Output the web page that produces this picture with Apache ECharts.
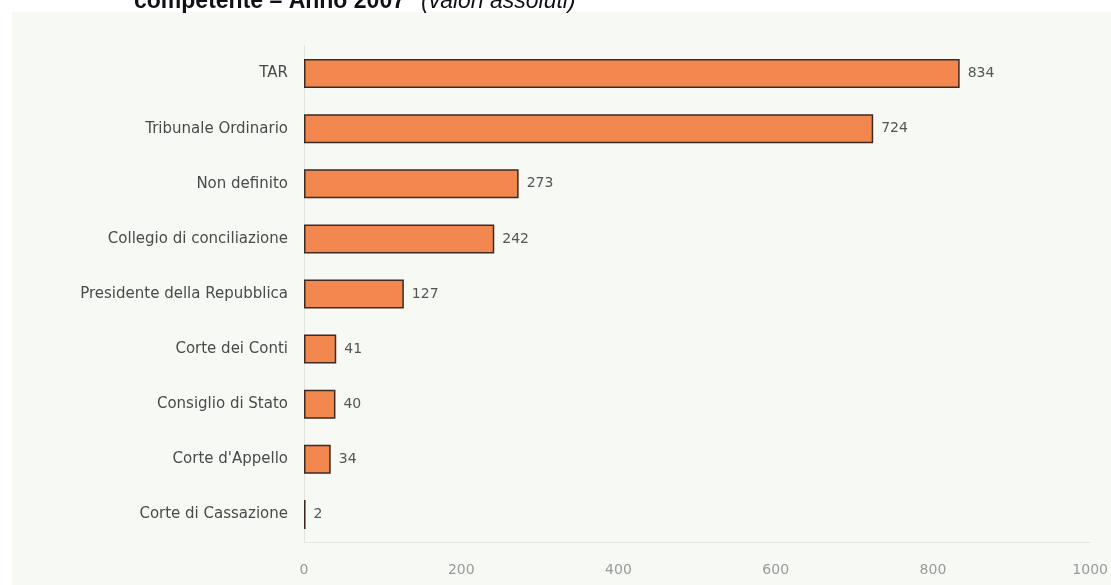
<!DOCTYPE html>
<html><head><meta charset="utf-8">
<script src="https://cdn.jsdelivr.net/npm/echarts@6/dist/echarts.min.js"></script>
<style>html,body{margin:0;padding:0;background:#fff}#c{width:1111px;height:585px}</style>
</head><body><div id="c"></div>
<script>
const categories = ["TAR","Tribunale Ordinario","Non definito","Collegio di conciliazione","Presidente della Repubblica","Corte dei Conti","Consiglio di Stato","Corte d'Appello","Corte di Cassazione"];
const values = [834,724,273,242,127,41,40,34,2];
const xTicks = [0,200,400,600,800,1000];

const chart = echarts.init(document.getElementById('c'));
chart.setOption({
  backgroundColor:'#ffffff',
  animation:false,
  graphic:[{type:'rect',z:-10,shape:{x:12,y:12,width:1099,height:573},style:{fill:'#f6f9f4'}}],
  title:{
    left:129, top:-15,
    text:'{b|competente – Anno 2007}{s| }{i|(valori assoluti)}',
    textStyle:{rich:{
      b:{fontFamily:'Liberation Sans, Arial',fontWeight:'bold',fontSize:23,color:'#111'},
      s:{fontFamily:'Liberation Sans, Arial',fontWeight:'normal',fontSize:23,width:16},
      i:{fontFamily:'Liberation Sans, Arial',fontWeight:'normal',fontStyle:'italic',fontSize:23,color:'#111'}
    }}
  },
  grid:{left:304,right:18,top:46,bottom:43,containLabel:false},
  xAxis:{type:'value',min:0,max:1000,interval:200,
    axisLine:{show:true,lineStyle:{color:'#e4e8e2',width:1}},
    axisTick:{show:false},splitLine:{show:false},
    axisLabel:{color:'#9a9a9a',fontFamily:'DejaVu Sans',fontSize:14,margin:21,
      formatter:v=>xTicks.includes(v)?String(v):''}
  },
  yAxis:{type:'category',data:categories,inverse:true,
    axisLine:{show:true,lineStyle:{color:'#e0e4de',width:1}},
    axisTick:{show:false},
    axisLabel:{color:'#4a4a4a',fontFamily:'DejaVu Sans',fontSize:15,margin:16}
  },
  series:[{type:'bar',data:values,barWidth:29,
    itemStyle:{color:'#f2884f',borderColor:'#3d2a22',borderWidth:1.5},
    label:{show:true,position:'right',distance:8,color:'#555',fontFamily:'DejaVu Sans',fontSize:14}
  }]
});
</script></body></html>
